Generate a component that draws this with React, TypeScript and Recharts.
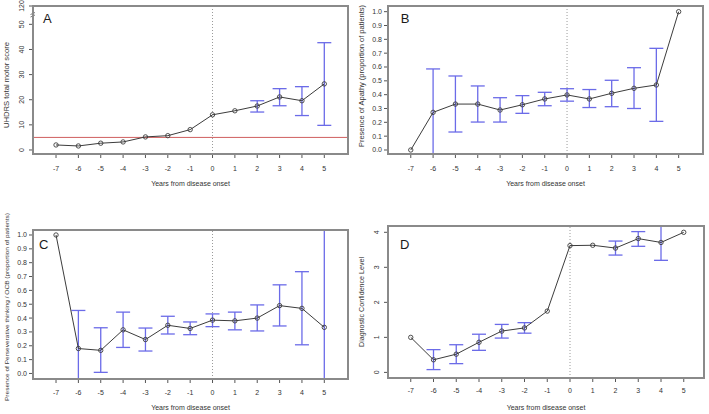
import React from 'react';
import { LineChart, Line, XAxis, YAxis, ErrorBar, ReferenceLine } from 'recharts';

const YEARS = [-7, -6, -5, -4, -3, -2, -1, 0, 1, 2, 3, 4, 5];

// A: UHDRS total motor score (mean, lower / upper CI)
const motorMean = [2.0, 1.6, 2.7, 3.2, 5.2, 5.7, 8.1, 14.0, 15.6, 17.5, 21.1, 19.6, 26.3];
const motorLow = [null, null, null, null, null, null, null, null, null, 15.1, 17.6, 13.7, 9.8];
const motorHigh = [null, null, null, null, null, null, null, null, null, 19.6, 24.4, 25.2, 42.7];
const MOTOR_CUTOFF = 5;
// the axis is broken above 50, the top tick stands for 120
const motorTicks = [0, 10, 20, 30, 40, 50, 57.3];
const motorTickLabels = ['0', '10', '20', '30', '40', '50', '120'];

// B: apathy (bars that leave the plot stop at its edge)
const apathyMean = [0, 0.272, 0.332, 0.332, 0.289, 0.327, 0.369, 0.398, 0.369, 0.41, 0.446, 0.47, 1.0];
const apathyLow = [null, -0.029, 0.13, 0.202, 0.202, 0.265, 0.32, 0.353, 0.307, 0.313, 0.3, 0.207, null];
const apathyHigh = [null, 0.586, 0.535, 0.463, 0.378, 0.393, 0.417, 0.443, 0.437, 0.504, 0.595, 0.735, null];

// C: perseverative thinking / OCB
const persevMean = [1.0, 0.18, 0.167, 0.315, 0.245, 0.348, 0.325, 0.385, 0.38, 0.4, 0.49, 0.47, 0.333];
const persevLow = [null, -0.04, 0.008, 0.188, 0.162, 0.285, 0.28, 0.338, 0.315, 0.307, 0.343, 0.207, -0.04];
const persevHigh = [null, 0.455, 0.33, 0.443, 0.328, 0.413, 0.372, 0.43, 0.443, 0.495, 0.64, 0.735, 1.036];

const propTicks = [0, 0.1, 0.2, 0.3, 0.4, 0.5, 0.6, 0.7, 0.8, 0.9, 1.0];
const propTickLabels = ['0.0', '0.1', '0.2', '0.3', '0.4', '0.5', '0.6', '0.7', '0.8', '0.9', '1.0'];

// D: diagnostic confidence level
const dclMean = [1.0, 0.36, 0.52, 0.86, 1.18, 1.27, 1.75, 3.62, 3.63, 3.55, 3.82, 3.71, 4.0];
const dclLow = [null, 0.08, 0.25, 0.63, 0.98, 1.12, null, null, null, 3.35, 3.6, 3.2, null];
const dclHigh = [null, 0.65, 0.79, 1.09, 1.37, 1.42, null, null, null, 3.75, 4.02, 4.18, null];
const dclTicks = [0, 1, 2, 3, 4];
const dclTickLabels = ['0', '1', '2', '3', '4'];

const X_TITLE = 'Years from disease onset';

const INK = '#333';
const LINE = '#3c3c3c';
const ERR = '#6b6be8';
const BOX = '#8a8a8a';

const W = 354;
const H = 207;
const Y_AXIS_W = 33;

type Num = number | null;

function buildRows(mean: number[], low: Num[], high: Num[]) {
  return YEARS.map((x, i) => ({
    x,
    y: mean[i],
    err: low[i] == null || high[i] == null ? null : [mean[i] - (low[i] as number), (high[i] as number) - mean[i]],
  }));
}

function YTick(props: any) {
  const { y, payload, rotate, ticks, labels, breakTop } = props;
  const idx = ticks.indexOf(payload.value);
  const text = idx >= 0 ? labels[idx] : String(payload.value);
  const isTop = breakTop && idx === ticks.length - 1;
  if (rotate) {
    const lx = 21.5;
    return (
      <g>
        <text x={lx} y={y} transform={`rotate(-90 ${lx} ${y})`} textAnchor="middle" dominantBaseline="central" fontSize={7} fill={INK}>
          {text}
        </text>
        {isTop && (
          <g stroke="#555" strokeWidth={0.8}>
            <line x1={30.5} y1={y + 8.5} x2={35} y2={y + 6.5} />
            <line x1={30.5} y1={y + 11} x2={35} y2={y + 9} />
          </g>
        )}
      </g>
    );
  }
  return (
    <text x={27} y={y} textAnchor="end" dominantBaseline="central" fontSize={7} fill={INK}>
      {text}
    </text>
  );
}

type PanelProps = {
  letter: string;
  letterX: number;
  letterY: number;
  title: string;
  titleSize: number;
  titleLen: number;
  titleY: number;
  mean: number[];
  low: Num[];
  high: Num[];
  left: number;
  top: number;
  padTop: number;
  padRight: number;
  xAxisH: number;
  tickGap: number;
  titleOff: number;
  xDomain: [number, number];
  yDomain: [number, number];
  yTicks: number[];
  yLabels: string[];
  rotateY: boolean;
  refY?: number;
  breakTop?: boolean;
};

function Panel(p: PanelProps) {
  const rows = buildRows(p.mean, p.low, p.high);
  const plotW = W - Y_AXIS_W - p.padRight;
  const plotH = H - p.padTop - p.xAxisH;
  return (
    <div style={{ position: 'absolute', left: p.left, top: p.top, width: W, height: H }}>
      <LineChart width={W} height={H} data={rows} margin={{ top: p.padTop, right: p.padRight, bottom: 0, left: 0 }}>
        <XAxis
          type="number"
          dataKey="x"
          domain={p.xDomain}
          ticks={YEARS}
          interval={0}
          allowDataOverflow
          axisLine={false}
          tickSize={4}
          tickMargin={p.tickGap}
          tickLine={{ stroke: '#555' }}
          tick={{ fontSize: 7, fill: INK }}
          height={p.xAxisH}
          label={{ value: X_TITLE, position: 'insideTop', offset: p.titleOff, fontSize: 7, fill: INK }}
        />
        <YAxis
          type="number"
          domain={p.yDomain}
          ticks={p.yTicks}
          interval={0}
          allowDataOverflow
          axisLine={false}
          width={Y_AXIS_W}
          tickSize={4}
          tickLine={{ stroke: '#555' }}
          tick={(t: any) => <YTick {...t} rotate={p.rotateY} ticks={p.yTicks} labels={p.yLabels} breakTop={p.breakTop} />}
          label={() => (
            <text
              x={6.5}
              y={p.titleY}
              transform={`rotate(-90 6.5 ${p.titleY})`}
              textAnchor="middle"
              dominantBaseline="central"
              fontSize={p.titleSize}
              fill={INK}
              textLength={p.titleLen}
              lengthAdjust="spacingAndGlyphs"
            >
              {p.title}
            </text>
          )}
        />
        <ReferenceLine x={0} stroke="#9a9a9a" strokeDasharray="1 2" />
        {p.refY != null && <ReferenceLine y={p.refY} stroke="#cf5f5f" strokeWidth={1} />}
        <Line
          type="linear"
          dataKey="y"
          stroke={LINE}
          strokeWidth={1}
          dot={{ r: 2.2, stroke: LINE, strokeWidth: 0.9, fill: 'none' }}
          activeDot={false}
          isAnimationActive={false}
        >
          <ErrorBar dataKey="err" width={7} stroke={ERR} strokeWidth={1.3} isAnimationActive={false} />
        </Line>
      </LineChart>
      {/* plot frame */}
      <div
        style={{
          position: 'absolute',
          left: Y_AXIS_W - 1,
          top: p.padTop - 1,
          width: plotW + 2,
          height: plotH + 2,
          border: `2px solid ${BOX}`,
          boxSizing: 'border-box',
          pointerEvents: 'none',
          zIndex: 2,
        }}
      />
      <div
        style={{
          position: 'absolute',
          left: p.letterX,
          top: p.letterY - 11,
          fontSize: 13,
          lineHeight: '13px',
          color: '#1a1a1a',
          zIndex: 3,
        }}
      >
        {p.letter}
      </div>
    </div>
  );
}

export default function App() {
  return (
    <div
      style={{
        position: 'absolute',
        left: 0,
        top: 0,
        width: 709,
        height: 414,
        background: '#fff',
        fontFamily: '"Liberation Sans", Arial, sans-serif',
      }}
    >
      <Panel
        letter="A"
        letterX={43}
        letterY={23.3}
        title="UHDRS total motor score"
        titleSize={7.6}
        titleLen={86}
        titleY={85}
        mean={motorMean}
        low={motorLow}
        high={motorHigh}
        left={0}
        top={0}
        padTop={6}
        padRight={6}
        xAxisH={53}
        tickGap={8}
        titleOff={27.5}
        xDomain={[-8.03, 6.06]}
        yDomain={[-1.6, 57.3]}
        yTicks={motorTicks}
        yLabels={motorTickLabels}
        rotateY
        refY={MOTOR_CUTOFF}
        breakTop
      />
      <Panel
        letter="B"
        letterX={45.7}
        letterY={23.3}
        title="Presence of Apathy (proportion of patients)"
        titleSize={6.6}
        titleLen={142}
        titleY={76}
        mean={apathyMean}
        low={apathyLow}
        high={apathyHigh}
        left={355}
        top={0}
        padTop={6}
        padRight={6}
        xAxisH={53}
        tickGap={8}
        titleOff={27.5}
        xDomain={[-8.02, 6.09]}
        yDomain={[-0.029, 1.041]}
        yTicks={propTicks}
        yLabels={propTickLabels}
        rotateY={false}
      />
      <Panel
        letter="C"
        letterX={39}
        letterY={41.7}
        title="Presence of Perseverative thinking / OCB (proportion of patients)"
        titleSize={5.7}
        titleLen={188}
        titleY={100}
        mean={persevMean}
        low={persevLow}
        high={persevHigh}
        left={0}
        top={207}
        padTop={23}
        padRight={6}
        xAxisH={35}
        tickGap={7}
        titleOff={26}
        xDomain={[-8.03, 6.06]}
        yDomain={[-0.04, 1.036]}
        yTicks={propTicks}
        yLabels={propTickLabels}
        rotateY={false}
      />
      <Panel
        letter="D"
        letterX={45}
        letterY={42.3}
        title="Diagnostic Confidence Level"
        titleSize={7.1}
        titleLen={90}
        titleY={95}
        mean={dclMean}
        low={dclLow}
        high={dclHigh}
        left={355}
        top={207}
        padTop={19}
        padRight={5}
        xAxisH={36}
        tickGap={6}
        titleOff={27}
        xDomain={[-8.0, 5.89]}
        yDomain={[-0.16, 4.18]}
        yTicks={dclTicks}
        yLabels={dclTickLabels}
        rotateY
      />
    </div>
  );
}
